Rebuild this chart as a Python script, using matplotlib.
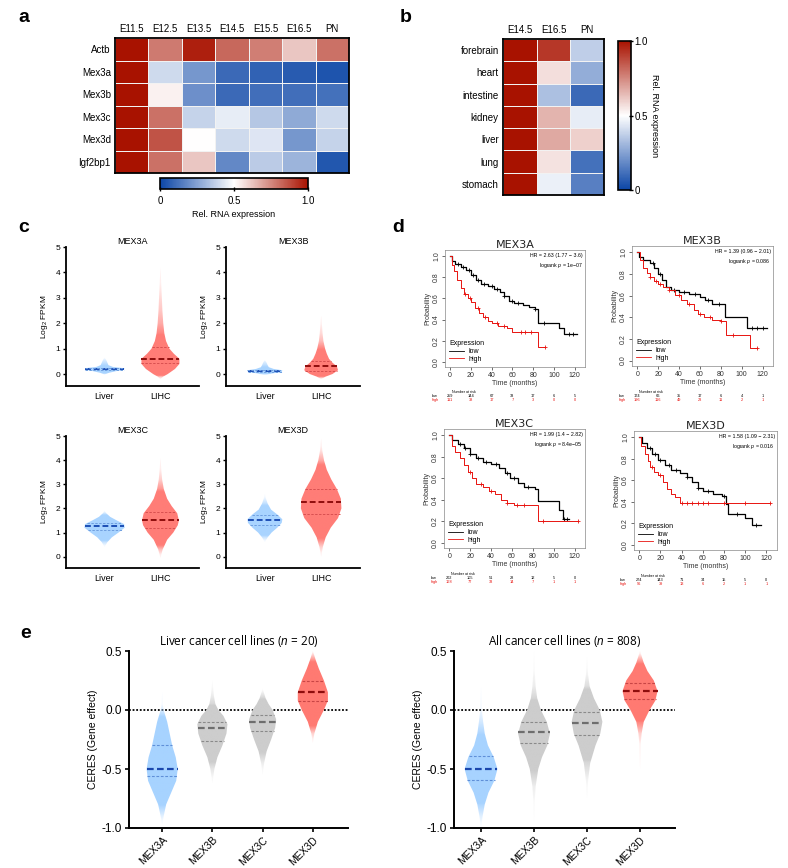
import numpy as np
import matplotlib
matplotlib.use('Agg')
import matplotlib.pyplot as plt
from matplotlib.colors import LinearSegmentedColormap, to_rgb
from matplotlib.lines import Line2D
from matplotlib.patches import Polygon
import matplotlib.transforms as mtrans

plt.rcParams['font.family'] = ['Liberation Sans', 'DejaVu Sans']
plt.rcParams['mathtext.fontset'] = 'custom'
plt.rcParams['mathtext.rm'] = 'Liberation Sans'
plt.rcParams['mathtext.it'] = 'Liberation Sans:italic'

# ---------------- data ----------------
# panel a
stages_a = ['E11.5', 'E12.5', 'E13.5', 'E14.5', 'E15.5', 'E16.5', 'PN']
genes_a = ['Actb', 'Mex3a', 'Mex3b', 'Mex3c', 'Mex3d', 'Igf2bp1']
heat_a = [
    [1.00, 0.78, 0.97, 0.82, 0.77, 0.62, 0.80],
    [1.00, 0.40, 0.22, 0.10, 0.08, 0.06, 0.04],
    [1.00, 0.53, 0.20, 0.10, 0.11, 0.11, 0.12],
    [1.00, 0.80, 0.38, 0.45, 0.35, 0.27, 0.40],
    [1.00, 0.86, 0.50, 0.40, 0.43, 0.22, 0.38],
    [1.00, 0.80, 0.62, 0.18, 0.36, 0.30, 0.05],
]
# panel b
stages_b = ['E14.5', 'E16.5', 'PN']
tissues_b = ['forebrain', 'heart', 'intestine', 'kidney', 'liver', 'lung', 'stomach']
heat_b = [
    [1.00, 0.92, 0.37],
    [1.00, 0.57, 0.28],
    [1.00, 0.33, 0.10],
    [1.00, 0.66, 0.45],
    [1.00, 0.68, 0.60],
    [1.00, 0.56, 0.12],
    [1.00, 0.46, 0.16],
]

# panel c: violin outlines (log2 FPKM, half width), median, quartiles
c_genes = ['MEX3A', 'MEX3B', 'MEX3C', 'MEX3D']
c_groups = ['Liver', 'LIHC']
c_liver_prof = [
    [(-0.02, 0), (0.05, 0.08), (0.12, 0.22), (0.17, 0.35), (0.23, 0.35), (0.28, 0.15), (0.35, 0.07), (0.45, 0.05), (0.55, 0.03), (0.65, 0)],
    [(-0.05, 0), (0.02, 0.12), (0.08, 0.3), (0.15, 0.31), (0.2, 0.16), (0.27, 0.07), (0.35, 0.05), (0.45, 0.03), (0.55, 0)],
    [(0.4, 0), (0.6, 0.05), (0.8, 0.13), (1.0, 0.25), (1.2, 0.36), (1.35, 0.35), (1.5, 0.22), (1.65, 0.1), (1.8, 0.03), (1.9, 0)],
    [(0.6, 0), (0.8, 0.05), (1.0, 0.12), (1.2, 0.22), (1.4, 0.3), (1.55, 0.31), (1.75, 0.22), (1.95, 0.11), (2.2, 0.05), (2.4, 0.02), (2.6, 0)],
]
c_lihc_prof = [
    [(-0.2, 0), (-0.1, 0.05), (0.0, 0.13), (0.2, 0.26), (0.4, 0.34), (0.6, 0.34), (0.8, 0.24), (1.0, 0.16), (1.3, 0.1), (1.6, 0.07), (2.0, 0.05), (2.5, 0.035), (3.0, 0.025), (3.5, 0.015), (4.2, 0)],
    [(-0.2, 0), (-0.1, 0.08), (0.0, 0.2), (0.15, 0.3), (0.3, 0.28), (0.45, 0.2), (0.6, 0.14), (0.8, 0.1), (1.0, 0.07), (1.3, 0.04), (1.6, 0.025), (2.0, 0.012), (2.3, 0)],
    [(-0.05, 0), (0.3, 0.04), (0.7, 0.12), (1.0, 0.23), (1.3, 0.31), (1.5, 0.33), (1.8, 0.3), (2.1, 0.2), (2.4, 0.12), (2.8, 0.06), (3.2, 0.03), (3.6, 0.015), (4.1, 0)],
    [(0.0, 0), (0.4, 0.03), (0.8, 0.08), (1.2, 0.17), (1.6, 0.3), (2.0, 0.36), (2.4, 0.35), (2.8, 0.28), (3.2, 0.18), (3.6, 0.1), (4.0, 0.05), (4.4, 0.02), (4.9, 0)],
]
c_liver_med = [0.2, 0.12, 1.25, 1.52]
c_liver_q = [(0.17, 0.23), (0.1, 0.14), (1.1, 1.4), (1.33, 1.72)]
c_lihc_med = [0.6, 0.3, 1.5, 2.25]
c_lihc_q = [(0.42, 1.05), (0.12, 0.5), (1.2, 1.85), (1.78, 2.8)]

# panel d: Kaplan-Meier curves (time in months, survival) and censor times
km_genes = ['MEX3A', 'MEX3B', 'MEX3C', 'MEX3D']
km_low = [
    [(0, 1.0), (2, 0.96), (5, 0.93), (10, 0.9), (15, 0.87), (20, 0.82), (25, 0.78), (30, 0.74), (36, 0.72), (42, 0.69), (48, 0.66), (52, 0.62), (57, 0.58), (62, 0.56), (70, 0.54), (76, 0.52), (82, 0.50), (85, 0.37), (105, 0.32), (110, 0.26), (122, 0.26)],
    [(0, 1.0), (2, 0.96), (6, 0.93), (12, 0.9), (16, 0.86), (20, 0.8), (24, 0.75), (28, 0.68), (32, 0.65), (40, 0.63), (50, 0.62), (60, 0.59), (65, 0.56), (72, 0.52), (84, 0.40), (105, 0.30), (124, 0.30)],
    [(0, 1.0), (3, 0.96), (8, 0.92), (14, 0.88), (20, 0.83), (26, 0.79), (32, 0.75), (40, 0.73), (48, 0.70), (53, 0.65), (58, 0.60), (66, 0.56), (72, 0.52), (82, 0.50), (85, 0.39), (105, 0.30), (109, 0.22), (115, 0.22)],
    [(0, 1.0), (3, 0.95), (7, 0.9), (12, 0.85), (18, 0.79), (24, 0.74), (30, 0.70), (38, 0.67), (45, 0.63), (50, 0.58), (55, 0.53), (60, 0.50), (70, 0.47), (78, 0.45), (82, 0.38), (84, 0.29), (100, 0.25), (106, 0.18), (115, 0.18)],
]
km_high = [
    [(0, 1.0), (2, 0.92), (4, 0.86), (7, 0.78), (10, 0.7), (13, 0.64), (17, 0.6), (20, 0.57), (24, 0.51), (28, 0.46), (32, 0.42), (36, 0.39), (40, 0.37), (46, 0.34), (55, 0.32), (60, 0.28), (85, 0.14), (91, 0.14)],
    [(0, 1.0), (3, 0.93), (6, 0.86), (9, 0.81), (12, 0.77), (16, 0.74), (20, 0.71), (25, 0.68), (30, 0.65), (36, 0.61), (42, 0.56), (48, 0.52), (54, 0.47), (58, 0.43), (64, 0.40), (72, 0.38), (80, 0.37), (85, 0.24), (108, 0.12), (115, 0.12)],
    [(0, 1.0), (3, 0.9), (6, 0.85), (10, 0.79), (14, 0.72), (18, 0.66), (22, 0.6), (26, 0.55), (32, 0.52), (38, 0.48), (44, 0.45), (50, 0.40), (55, 0.37), (62, 0.35), (85, 0.20), (123, 0.20)],
    [(0, 1.0), (2, 0.92), (5, 0.85), (8, 0.78), (10, 0.72), (14, 0.68), (18, 0.65), (22, 0.58), (26, 0.52), (30, 0.47), (34, 0.44), (38, 0.39), (123, 0.39)],
]
km_low_cens = [
    [8, 12, 18, 22, 27, 33, 40, 45, 52, 60, 65, 82, 90, 115, 118],
    [15, 22, 35, 45, 55, 68, 78, 110, 115, 120],
    [10, 15, 20, 28, 35, 45, 55, 62, 75, 110, 113],
    [10, 15, 20, 28, 35, 45, 55, 65, 80, 92, 110],
]
km_high_cens = [
    [14, 19, 27, 34, 45, 52, 68, 72, 78, 91],
    [12, 18, 22, 30, 40, 50, 60, 70, 80, 92, 115],
    [20, 30, 40, 55, 65, 72, 90, 123],
    [12, 20, 40, 45, 50, 55, 60, 65, 80, 100, 123],
]
km_hr = ['HR = 2.63 (1.77 \u2212 3.6)', 'HR = 1.39 (0.96 \u2212 2.01)',
         'HR = 1.99 (1.4 \u2212 2.82)', 'HR = 1.58 (1.09 \u2212 2.31)']
km_p = ['1e\u221207', '0.086', '8.4e\u221205', '0.016']
risk_times = [0, 20, 40, 60, 80, 100, 120]
risk_low = [[259, 144, 67, 33, 17, 6, 5], [174, 66, 35, 17, 6, 4, 1],
            [202, 105, 51, 28, 12, 5, 0], [274, 143, 71, 34, 15, 5, 0]]
risk_high = [[111, 38, 17, 7, 3, 0, 0], [196, 116, 49, 23, 11, 2, 1],
             [168, 77, 33, 14, 7, 1, 1], [96, 39, 13, 6, 2, 1, 1]]

# panel e: CERES violins
e_genes = ['MEX3A', 'MEX3B', 'MEX3C', 'MEX3D']
e_liver_prof = [
    [(-0.97, 0), (-0.9, 0.03), (-0.8, 0.08), (-0.7, 0.18), (-0.6, 0.28), (-0.5, 0.31), (-0.4, 0.27), (-0.3, 0.2), (-0.2, 0.15), (-0.1, 0.1), (0.0, 0.03), (0.05, 0.01), (0.15, 0)],
    [(-0.62, 0), (-0.5, 0.04), (-0.4, 0.1), (-0.3, 0.2), (-0.2, 0.28), (-0.12, 0.3), (-0.05, 0.22), (0.0, 0.12), (0.05, 0.06), (0.12, 0.03), (0.25, 0)],
    [(-0.55, 0), (-0.45, 0.03), (-0.35, 0.08), (-0.25, 0.17), (-0.15, 0.25), (-0.08, 0.27), (0.0, 0.2), (0.05, 0.12), (0.1, 0.06), (0.18, 0)],
    [(-0.28, 0), (-0.2, 0.03), (-0.1, 0.1), (0.0, 0.22), (0.08, 0.3), (0.15, 0.3), (0.25, 0.22), (0.35, 0.12), (0.42, 0.06), (0.5, 0)],
]
e_all_prof = [
    [(-1.0, 0), (-0.9, 0.03), (-0.8, 0.07), (-0.7, 0.14), (-0.6, 0.25), (-0.5, 0.31), (-0.4, 0.24), (-0.3, 0.13), (-0.2, 0.07), (-0.1, 0.04), (0.0, 0.015), (0.2, 0)],
    [(-0.95, 0), (-0.8, 0.01), (-0.65, 0.03), (-0.5, 0.08), (-0.4, 0.15), (-0.3, 0.25), (-0.2, 0.3), (-0.1, 0.24), (0.0, 0.13), (0.1, 0.06), (0.2, 0.03), (0.35, 0.01), (0.5, 0)],
    [(-0.75, 0), (-0.6, 0.02), (-0.45, 0.06), (-0.3, 0.16), (-0.2, 0.25), (-0.1, 0.29), (0.0, 0.24), (0.1, 0.13), (0.2, 0.05), (0.3, 0.02), (0.45, 0)],
    [(-0.5, 0), (-0.3, 0.01), (-0.2, 0.03), (-0.1, 0.07), (0.0, 0.18), (0.08, 0.29), (0.16, 0.33), (0.25, 0.26), (0.33, 0.14), (0.4, 0.07), (0.5, 0)],
]
e_liver_med = [-0.5, -0.15, -0.1, 0.15]
e_liver_q = [(-0.56, -0.3), (-0.26, -0.1), (-0.18, -0.04), (0.08, 0.25)]
e_all_med = [-0.5, -0.19, -0.11, 0.16]
e_all_q = [(-0.59, -0.39), (-0.28, -0.1), (-0.21, -0.02), (0.09, 0.23)]

# ---------------- figure ----------------
W, H = 788, 868
fig = plt.figure(figsize=(W / 100, H / 100), dpi=100)


def px_axes(l, t, r, b):
    return fig.add_axes([l / W, 1 - b / H, (r - l) / W, (b - t) / H])


def panel_label(x, y, s):
    fig.text(x / W, 1 - y / H, s, fontsize=14, fontweight='bold', ha='left', va='center')


cmap = LinearSegmentedColormap.from_list('bwr2', ['#0b45a6', '#ffffff', '#a81200'])


def heatmap(ax, vals, rows, cols):
    im = ax.pcolormesh(np.array(vals), cmap=cmap, vmin=0, vmax=1,
                       edgecolors='#f2f2f2', linewidth=0.6)
    ax.set_ylim(len(rows), 0)
    ax.set_xticks(np.arange(len(cols)) + 0.5, cols)
    ax.set_yticks(np.arange(len(rows)) + 0.5, rows)
    ax.xaxis.tick_top()
    ax.tick_params(length=0, labelsize=7, pad=3)
    for s in ax.spines.values():
        s.set_linewidth(1.3)
    return im


# panel a
panel_label(18, 18, 'a')
ax = px_axes(115, 38, 349, 173)
im = heatmap(ax, heat_a, genes_a, stages_a)
cax = px_axes(160, 178, 308, 189)
cb = fig.colorbar(im, cax=cax, orientation='horizontal', ticks=[0, 0.5, 1.0])
cb.ax.set_xticklabels(['0', '0.5', '1.0'])
cb.ax.tick_params(labelsize=7, length=3, direction='inout', width=1)
cb.set_label('Rel. RNA expression', fontsize=6.5, labelpad=3)
cb.outline.set_linewidth(1.2)

# panel b
panel_label(400, 18, 'b')
ax = px_axes(503, 39, 604, 195)
im = heatmap(ax, heat_b, tissues_b, stages_b)
cax = px_axes(618, 41, 631, 190)
cb = fig.colorbar(im, cax=cax, ticks=[0, 0.5, 1.0])
cb.ax.set_yticklabels(['0', '0.5', '1.0'])
cb.ax.tick_params(labelsize=7, length=3, direction='inout', width=1, pad=1)
cb.set_label('Rel. RNA expression', fontsize=6.5, rotation=270, labelpad=8)
cb.outline.set_linewidth(1.2)


def violin(ax, pos, prof, color, med, quart, dark, qcol, lw_med=1.4, lw_q=0.7):
    ys = np.array([p[0] for p in prof])
    hw = np.array([p[1] for p in prof])
    outline = np.column_stack([np.r_[pos - hw, (pos + hw)[::-1]], np.r_[ys, ys[::-1]]])
    patch = Polygon(outline, closed=True, facecolor='none', edgecolor='none')
    ax.add_patch(patch)
    # colour image with alpha fading in the thin tails, clipped to the outline
    yy = np.linspace(ys[0], ys[-1], 300)
    alpha = np.clip((np.interp(yy, ys, hw) - 0.005) / 0.07, 0.12, 1.0)
    rgba = np.zeros((len(yy), 2, 4))
    rgba[..., :3] = to_rgb(color)
    rgba[..., 3] = alpha[:, None]
    img = ax.imshow(rgba, extent=[pos - 0.5, pos + 0.5, ys[0], ys[-1]], origin='lower',
                    aspect='auto', interpolation='bilinear', zorder=2)
    img.set_clip_path(patch)
    for y, c, lw, ls in [(med, dark, lw_med, (0, (3, 1.5))),
                         (quart[0], qcol, lw_q, (0, (2.5, 1.5))),
                         (quart[1], qcol, lw_q, (0, (2.5, 1.5)))]:
        w = np.interp(y, ys, hw)
        ax.plot([pos - w, pos + w], [y, y], color=c, lw=lw, ls=ls, zorder=3)


# panel c
panel_label(18, 228, 'c')
c_boxes = [(66, 247, 199, 386), (226, 247, 360, 386),
           (66, 436, 199, 568), (226, 436, 360, 568)]
for i, g in enumerate(c_genes):
    ax = px_axes(*c_boxes[i])
    violin(ax, 1, c_liver_prof[i], '#a9d4ff', c_liver_med[i], c_liver_q[i], '#1d4fb5', '#6f9fe0')
    violin(ax, 2, c_lihc_prof[i], '#ff7d77', c_lihc_med[i], c_lihc_q[i], '#8e0d0d', '#d85050')
    ax.set_xlim(0.31, 2.69)
    ax.set_ylim(-0.47, 5)
    ax.set_yticks([0, 1, 2, 3, 4, 5])
    ax.set_xticks([1, 2], c_groups)
    ax.tick_params(axis='x', length=0, labelsize=6.5, pad=4)
    ax.tick_params(axis='y', length=2.5, width=1, labelsize=6, pad=1.5)
    ax.spines[['top', 'right']].set_visible(False)
    ax.spines[['left', 'bottom']].set_linewidth(1.3)
    ax.set_title(g, fontsize=6.5, pad=2)
    ax.set_ylabel('Log$_2$ FPKM', fontsize=6, labelpad=4)

# panel d
panel_label(392, 228, 'd')
km_boxes = [(445, 250, 585, 367), (632, 246, 773, 366),
            (444, 429, 585, 548), (634, 431, 777, 550)]
for i, g in enumerate(km_genes):
    ax = px_axes(*km_boxes[i])
    for curve, cens, col, lw in [(km_low[i], km_low_cens[i], 'black', 0.9),
                                 (km_high[i], km_high_cens[i], '#e8130f', 0.7)]:
        t = [p[0] for p in curve]
        s = [p[1] for p in curve]
        ax.step(t, s, where='post', color=col, lw=lw)
        idx = np.searchsorted(t, cens, side='right') - 1
        ax.plot(cens, np.array(s)[idx], ls='none', marker='+', ms=2.5, mew=0.6, color=col)
    ax.set_xlim(-5, 130)
    ax.set_ylim(-0.05, 1.06)
    ax.set_xticks(risk_times)
    ax.set_yticks([0, 0.2, 0.4, 0.6, 0.8, 1.0], ['0.0', '0.2', '0.4', '0.6', '0.8', '1.0'])
    for lab in ax.get_yticklabels():
        lab.set_rotation(90)
        lab.set_va('center')
    ax.tick_params(labelsize=5, length=2, width=0.5, pad=1.5, colors='#333333')
    for s in ax.spines.values():
        s.set_linewidth(0.5)
        s.set_color('#888888')
    ax.set_title(g, fontsize=8, pad=1.5, family='DejaVu Sans', color='#222222')
    ax.set_ylabel('Probability', fontsize=5, labelpad=1, color='#333333')
    ax.set_xlabel('Time (months)', fontsize=5, labelpad=1, color='#333333')
    ax.text(0.985, 0.975, km_hr[i] + '\nlogrank $\\it{p}$ = ' + km_p[i], transform=ax.transAxes,
            ha='right', va='top', fontsize=3.8, linespacing=1.5)
    handles = [Line2D([], [], color='black', lw=0.6), Line2D([], [], color='#e8130f', lw=0.6)]
    leg = ax.legend(handles, ['low', 'high'], title='Expression', loc='lower left',
                    frameon=False, fontsize=5, title_fontsize=5, handlelength=2.2,
                    borderaxespad=0.2, labelspacing=0.1, handletextpad=0.6)
    leg._legend_box.align = 'left'
    trans = mtrans.blended_transform_factory(ax.transData, ax.transAxes)
    ax.text(2, -0.215, 'Number at risk', transform=trans, fontsize=2.6, ha='left', va='center')
    ax.text(-18, -0.25, 'low', transform=trans, fontsize=2.8, ha='left', va='center')
    ax.text(-18, -0.285, 'high', transform=trans, fontsize=2.8, ha='left', va='center', color='#e8130f')
    for t, nl, nh in zip(risk_times, risk_low[i], risk_high[i]):
        ax.text(t, -0.25, str(nl), transform=trans, fontsize=2.8, ha='center', va='center')
        ax.text(t, -0.285, str(nh), transform=trans, fontsize=2.8, ha='center', va='center', color='#e8130f')

# panel e
panel_label(20, 633, 'e')
e_cols = ['#a7d3ff', '#cdcdcd', '#cdcdcd', '#ff7a72']
e_dark = ['#1a47ad', '#6e6e6e', '#6e6e6e', '#8e0d0d']
e_qcol = ['#5f8fd8', '#8a8a8a', '#8a8a8a', '#c84545']
e_boxes = [(129, 651, 348, 828), (454, 651, 675, 828)]
e_xlims = [(0.34, 4.7), (0.49, 4.66)]
e_titles = ['Liver cancer cell lines ($\\it{n}$ = 20)', 'All cancer cell lines ($\\it{n}$ = 808)']
for k, (profs, meds, qs) in enumerate([(e_liver_prof, e_liver_med, e_liver_q),
                                       (e_all_prof, e_all_med, e_all_q)]):
    ax = px_axes(*e_boxes[k])
    ax.axhline(0, color='black', ls=(0, (1, 1)), lw=1.3, zorder=1)
    for j in range(len(e_genes)):
        violin(ax, j + 1, profs[j], e_cols[j], meds[j], qs[j], e_dark[j], e_qcol[j], lw_med=1.6, lw_q=0.8)
    ax.set_xlim(*e_xlims[k])
    ax.set_ylim(-1.0, 0.5)
    ax.set_yticks([-1.0, -0.5, 0.0, 0.5], ['-1.0', '-0.5', '0.0', '0.5'])
    ax.set_xticks(range(1, 5), e_genes, rotation=45, ha='right', rotation_mode='anchor')
    ax.tick_params(axis='y', labelsize=8.5, length=3, width=1.2, pad=2)
    ax.tick_params(axis='x', labelsize=7.5, length=3, width=1.2, pad=2)
    ax.spines[['top', 'right']].set_visible(False)
    ax.spines[['left', 'bottom']].set_linewidth(1.4)
    ax.set_title(e_titles[k], fontsize=8.5, pad=4, family='Open Sans')
    ax.set_ylabel('CERES (Gene effect)', fontsize=7.5, labelpad=3)

fig.savefig('out.png', dpi=100)
